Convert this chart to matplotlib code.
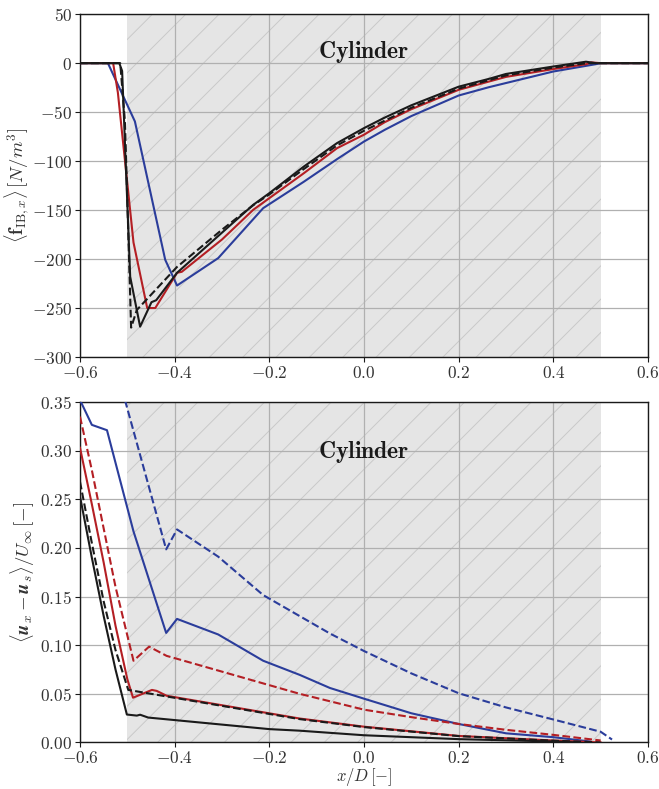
import matplotlib
matplotlib.use('Agg')
import matplotlib.pyplot as plt

plt.rcParams['mathtext.fontset'] = 'cm'
plt.rcParams['font.family'] = 'serif'
plt.rcParams['font.serif'] = ['cmr10', 'DejaVu Serif']
plt.rcParams['axes.formatter.use_mathtext'] = True
plt.rcParams['hatch.linewidth'] = 0.7

# top panel: <f_IB,x>
xf_blue = [-0.6, -0.541, -0.484, -0.420, -0.395, -0.308, -0.213, -0.127, -0.057, 0.0, 0.044, 0.1, 0.2, 0.264, 0.4, 0.49, 0.5, 0.6]
f_blue = [0, 0, -59.5, -200.7, -227, -199, -148, -121, -98, -80, -68, -54, -33, -24.5, -8.5, -1, 0, 0]
xf_red = [-0.6, -0.530, -0.520, -0.487, -0.458, -0.441, -0.395, -0.385, -0.3, -0.234, -0.2, -0.127, -0.057, 0.0, 0.044, 0.1, 0.2, 0.3, 0.4, 0.47, 0.48, 0.5, 0.6]
f_red = [0, 0, -30, -183, -250, -250, -214, -213, -180, -149.7, -137.8, -112.3, -86.8, -73, -60.2, -47, -27.2, -14, -6, -1, 0.8, 0, 0]
xf_black = [-0.6, -0.517, -0.511, -0.494, -0.473, -0.449, -0.439, -0.395, -0.3, -0.234, -0.2, -0.127, -0.057, 0.0, 0.044, 0.1, 0.2, 0.264, 0.3, 0.4, 0.469, 0.49, 0.6]
f_black = [0, 0, -8, -218, -269, -244, -242, -214, -173, -144.6, -132.7, -105.5, -81.6, -66.3, -55.5, -43, -24, -16, -11, -3.4, 1.5, 0, 0]
xf_dash = [-0.6, -0.515, -0.505, -0.492, -0.480, -0.395, -0.3, -0.234, -0.2, -0.127, -0.057, 0.0, 0.1, 0.2, 0.3, 0.4, 0.47, 0.5, 0.6]
f_dash = [0, 0, -60, -270, -252, -208, -170, -145, -134, -108, -84, -69, -45.5, -26, -12.5, -4.5, 0, 0, 0]

# bottom panel: <u_x - u_s>/U_inf
xu_blue = [-0.6, -0.575, -0.543, -0.487, -0.418, -0.395, -0.308, -0.213, -0.136, -0.072, 0.0, 0.1, 0.2, 0.3, 0.4, 0.477]
u_blue = [0.352, 0.3265, 0.321, 0.217, 0.1126, 0.127, 0.111, 0.084, 0.0695, 0.056, 0.045, 0.03, 0.019, 0.0094, 0.0054, 0.001]
xu_blue_d = [-0.505, -0.418, -0.395, -0.308, -0.213, -0.072, 0.0, 0.1, 0.2, 0.3, 0.4, 0.5, 0.524]
u_blue_d = [0.352, 0.1985, 0.219, 0.191, 0.1515, 0.112, 0.094, 0.071, 0.0506, 0.036, 0.0236, 0.011, 0.003]
xu_red = [-0.6, -0.575, -0.55, -0.525, -0.5, -0.488, -0.448, -0.438, -0.417, -0.136, 0.0, 0.2, 0.4, 0.5]
u_red = [0.303, 0.245, 0.185, 0.12, 0.065, 0.046, 0.054, 0.053, 0.048, 0.0246, 0.0162, 0.0067, 0.002, 0.0]
xu_red_d = [-0.6, -0.575, -0.55, -0.525, -0.5, -0.487, -0.454, -0.417, -0.395, -0.136, 0.0, 0.1, 0.2, 0.3, 0.4, 0.5]
u_red_d = [0.335, 0.28, 0.22, 0.16, 0.11, 0.084, 0.0985, 0.089, 0.086, 0.05, 0.0337, 0.026, 0.019, 0.013, 0.0078, 0.002]
xu_black = [-0.6, -0.575, -0.55, -0.525, -0.501, -0.48, -0.473, -0.456, -0.2, -0.136, 0.0, 0.2, 0.4, 0.45]
u_black = [0.253, 0.19, 0.13, 0.075, 0.0287, 0.0276, 0.0285, 0.0256, 0.0137, 0.0121, 0.0074, 0.0034, 0.001, 0.0]
xu_black_d = [-0.6, -0.575, -0.55, -0.525, -0.498, -0.136, 0.0, 0.2, 0.4, 0.5]
u_black_d = [0.268, 0.205, 0.145, 0.095, 0.054, 0.024, 0.0158, 0.0065, 0.0018, 0.0]

xticks = [-0.6, -0.4, -0.2, 0.0, 0.2, 0.4, 0.6]

blue = '#2b3d9b'
red = '#b41f24'
black = '#1a1a1a'

fig = plt.figure(figsize=(6.59, 7.89), dpi=100)
ax1 = fig.add_axes([0.1214, 0.5475, 0.8619, 0.4345])
ax2 = fig.add_axes([0.1214, 0.0590, 0.8619, 0.4315])

for ax in (ax1, ax2):
	ax.axvspan(-0.5, 0.5, facecolor='#e5e5e5', edgecolor='#c9c9c9', hatch='/', linewidth=0, zorder=0)
	ax.grid(True, color='#b0b0b0', linewidth=0.9, zorder=1)
	ax.set_axisbelow(True)
	ax.set_xlim(-0.6, 0.6)
	ax.set_xticks(xticks)
	ax.set_xticklabels(['$%.1f$' % v if v >= 0 else '$-%.1f$' % -v for v in xticks])
	ax.tick_params(axis='both', which='major', labelsize=12.5, direction='out', length=3.5, pad=2, color='#1a1a1a', labelcolor='#333333')
	for sp in ax.spines.values():
		sp.set_color('#1a1a1a')
		sp.set_linewidth(1.0)

lw = 1.5
ax1.plot(xf_blue, f_blue, color=blue, lw=lw, zorder=3)
ax1.plot(xf_red, f_red, color=red, lw=lw, zorder=3)
ax1.plot(xf_black, f_black, color=black, lw=lw, zorder=4)
ax1.plot(xf_dash, f_dash, color=black, lw=lw, ls='--', zorder=4)
ax1.set_ylim(-300, 50)
ax1.set_yticks([-300, -250, -200, -150, -100, -50, 0, 50])
ax1.set_ylabel(r'$\langle \mathbf{f}_{\mathrm{IB},x} \rangle\, [N/m^3]$', fontsize=13.5, color='#333333', va='center')
ax1.yaxis.set_label_coords(-0.112, 0.5)
ax1.text(0.0, 11.5, r'$\mathbf{Cylinder}$', fontsize=17, ha='center', va='center', color='#1a1a1a')

ax2.plot(xu_blue, u_blue, color=blue, lw=lw, zorder=3)
ax2.plot(xu_blue_d, u_blue_d, color=blue, lw=lw, ls='--', zorder=3)
ax2.plot(xu_red, u_red, color=red, lw=lw, zorder=3)
ax2.plot(xu_red_d, u_red_d, color=red, lw=lw, ls='--', zorder=3)
ax2.plot(xu_black, u_black, color=black, lw=lw, zorder=4)
ax2.plot(xu_black_d, u_black_d, color=black, lw=lw, ls='--', zorder=4)
ax2.set_ylim(0, 0.35)
yt2 = [0.0, 0.05, 0.10, 0.15, 0.20, 0.25, 0.30, 0.35]
ax2.set_yticks(yt2)
ax2.set_yticklabels(['$%.2f$' % v for v in yt2])
ax2.set_ylabel(r'$\langle \mathbfit{u}_x - \mathbfit{u}_s \rangle / U_\infty\, [-]$', fontsize=13.5, color='#333333', va='center')
ax2.yaxis.set_label_coords(-0.1, 0.5)
ax2.set_xlabel(r'$x/D\,[-]$', fontsize=12, color='#333333')
ax2.xaxis.set_label_coords(0.5, -0.068)
ax2.text(0.0, 0.299, r'$\mathbf{Cylinder}$', fontsize=17, ha='center', va='center', color='#1a1a1a')

fig.savefig('out.png', dpi=100)
